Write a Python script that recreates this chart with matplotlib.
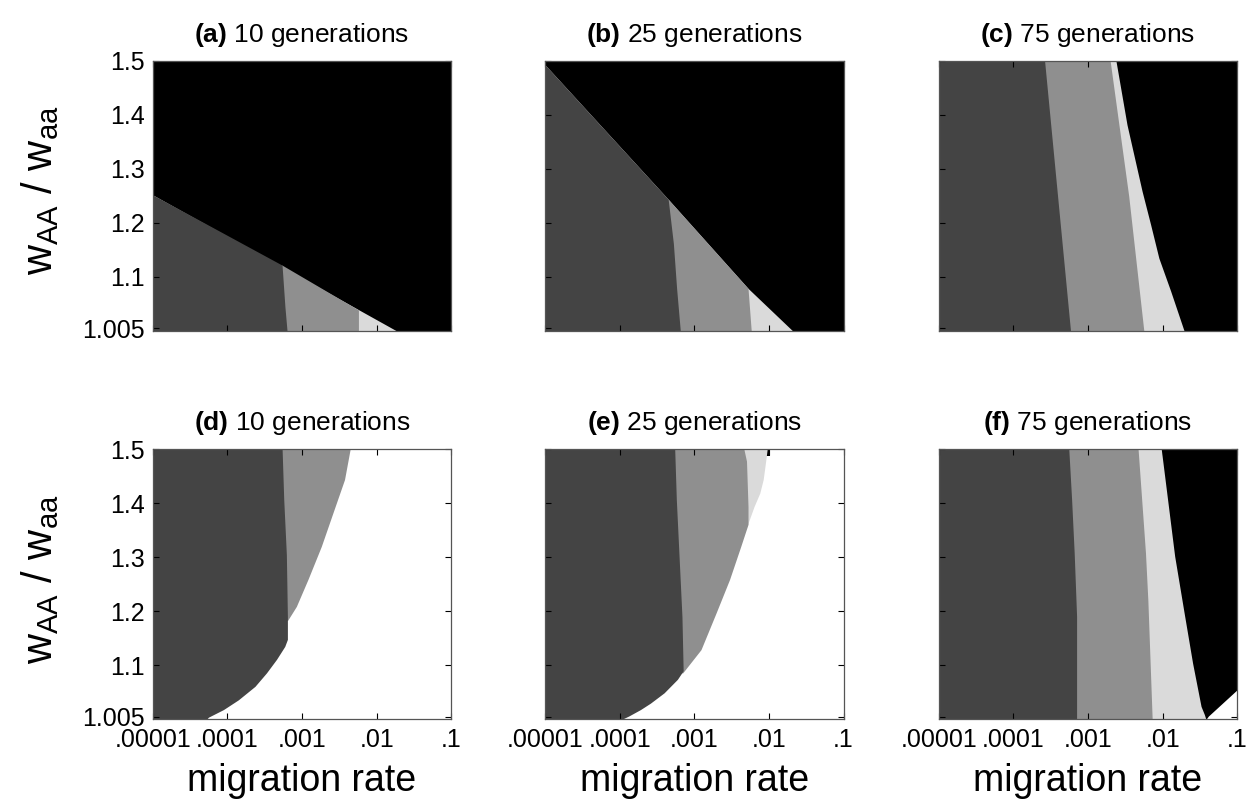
import matplotlib.pyplot as plt
from matplotlib.ticker import NullLocator

plt.rcParams['font.family'] = ['Liberation Sans', 'DejaVu Sans']
plt.rcParams['mathtext.fontset'] = 'custom'
plt.rcParams['mathtext.rm'] = 'Liberation Sans'
plt.rcParams['mathtext.bf'] = 'Liberation Sans:bold'

# axes ticks
x_ticks = [1e-5, 1e-4, 1e-3, 1e-2, 1e-1]
x_labels = ['.00001', '.0001', '.001', '.01', '.1']
y_ticks = [1.005, 1.1, 1.2, 1.3, 1.4, 1.5]
y_labels = ['1.005', '1.1', '1.2', '1.3', '1.4', '1.5']

panel_letters = ['a', 'b', 'c', 'd', 'e', 'f']
generations = [10, 25, 75, 10, 25, 75]

# right edge (migration rate) of each grey zone at the listed wAA/waa values
# (a)
a_dark_y = [1.0, 1.045, 1.122, 1.252]
a_dark_m = [6.3e-4, 5.9e-4, 5.4e-4, 1e-5]
a_mid_y = [1.0, 1.039, 1.122]
a_mid_m = [5.7e-3, 5.7e-3, 5.4e-4]
a_light_y = [1.0, 1.252]
a_light_m = [1.86e-2, 1e-5]
# (b)
b_dark_y = [1.0, 1.079, 1.162, 1.244, 1.493]
b_dark_m = [6.5e-4, 5.8e-4, 5.25e-4, 4.47e-4, 1e-5]
b_mid_y = [1.0, 1.079, 1.244]
b_mid_m = [5.8e-3, 5.25e-3, 4.47e-4]
b_light_y = [1.0, 1.079, 1.244, 1.493]
b_light_m = [2.09e-2, 5.25e-3, 4.47e-4, 1e-5]
# (c)
c_dark_y = [1.0, 1.5]
c_dark_m = [5.83e-4, 2.62e-4]
c_mid_y = [1.0, 1.25, 1.5]
c_mid_m = [5.6e-3, 3.51e-3, 1.98e-3]
c_light_y = [1.0, 1.074, 1.135, 1.197, 1.259, 1.382, 1.5]
c_light_m = [1.94e-2, 1.28e-2, 8.9e-3, 6.9e-3, 5.3e-3, 3.33e-3, 2.37e-3]
# (d)
d_dark_y = [1.0, 1.004, 1.018, 1.036, 1.061, 1.086, 1.111, 1.135, 1.148,
            1.19, 1.305, 1.407, 1.5]
d_dark_m = [5.25e-5, 5.58e-5, 8.85e-5, 1.4e-4, 2.34e-4, 3.34e-4, 4.55e-4,
            5.87e-4, 6.37e-4, 6.37e-4, 6.17e-4, 5.69e-4, 5.41e-4]
d_mid_y = [1.183, 1.209, 1.259, 1.32, 1.382, 1.444, 1.5]
d_mid_m = [6.4e-4, 8.39e-4, 1.2e-3, 1.81e-3, 2.59e-3, 3.71e-3, 4.41e-3]
# (e)
e_dark_y = [1.0, 1.006, 1.018, 1.03, 1.049, 1.074, 1.09, 1.19, 1.305, 1.407, 1.5]
e_dark_m = [1.07e-4, 1.32e-4, 1.9e-4, 2.59e-4, 3.94e-4, 5.94e-4, 7.1e-4,
            6.84e-4, 6.24e-4, 5.75e-4, 5.47e-4]
e_mid_y = [1.086, 1.129, 1.197, 1.259, 1.32, 1.361, 1.394, 1.478, 1.5]
e_mid_m = [7.0e-4, 1.23e-3, 1.96e-3, 2.97e-3, 4.19e-3, 5.25e-3, 5.25e-3,
           5.01e-3, 4.63e-3]
e_light_y = [1.355, 1.394, 1.419, 1.444, 1.475, 1.5]
e_light_m = [5.0e-3, 6.32e-3, 7.55e-3, 8.38e-3, 8.99e-3, 9.48e-3]
e_black_y = [1.487, 1.5]
e_black_m = [1.05e-2, 1.05e-2]
# (f)
f_dark_y = [1.0, 1.191, 1.308, 1.407, 1.5]
f_dark_m = [7.03e-4, 7.03e-4, 6.53e-4, 6.03e-4, 5.53e-4]
f_mid_y = [1.0, 1.22, 1.308, 1.5]
f_mid_m = [7.24e-3, 6.34e-3, 5.89e-3, 4.69e-3]
f_light_y = [1.0, 1.009, 1.024, 1.104, 1.197, 1.302, 1.5]
f_light_m = [3.8e-2, 3.62e-2, 3.27e-2, 2.52e-2, 1.94e-2, 1.45e-2, 9.59e-3]
f_black_y = [1.0, 1.006, 1.055, 1.5]
f_black_m = [3.81e-2, 4.1e-2, 0.1, 0.1]

DARK, MID, LIGHT, BLACK = '#444444', '#8f8f8f', '#dadada', '#000000'

# painted right-most first so each zone covers the ones to its right
zones = [
    [(LIGHT, a_light_y, a_light_m), (MID, a_mid_y, a_mid_m), (DARK, a_dark_y, a_dark_m)],
    [(LIGHT, b_light_y, b_light_m), (MID, b_mid_y, b_mid_m), (DARK, b_dark_y, b_dark_m)],
    [(LIGHT, c_light_y, c_light_m), (MID, c_mid_y, c_mid_m), (DARK, c_dark_y, c_dark_m)],
    [(MID, d_mid_y, d_mid_m), (DARK, d_dark_y, d_dark_m)],
    [(BLACK, e_black_y, e_black_m), (LIGHT, e_light_y, e_light_m),
     (MID, e_mid_y, e_mid_m), (DARK, e_dark_y, e_dark_m)],
    [(BLACK, f_black_y, f_black_m), (LIGHT, f_light_y, f_light_m),
     (MID, f_mid_y, f_mid_m), (DARK, f_dark_y, f_dark_m)],
]
backgrounds = ['black', 'black', 'black', 'white', 'white', 'white']

fig = plt.figure(figsize=(12.48, 8.01), dpi=100)

lefts = [0.1224, 0.4367, 0.7522]
bottoms = [0.5868, 0.1020]
w, h = 0.2392, 0.3371

for i in range(6):
    row, col = divmod(i, 3)
    ax = fig.add_axes([lefts[col], bottoms[row], w, h])
    ax.set_facecolor(backgrounds[i])
    for color, ys, ms in zones[i]:
        ax.fill_betweenx(ys, 1e-5, ms, color=color, lw=0, antialiased=False)

    ax.set_xscale('log')
    ax.set_xlim(1e-5, 1e-1)
    ax.set_ylim(1.0, 1.5)
    ax.set_xticks(x_ticks)
    ax.xaxis.set_minor_locator(NullLocator())
    ax.set_yticks(y_ticks)
    if row == 1:
        ax.set_xticklabels(x_labels)
    else:
        ax.set_xticklabels([])
    if col == 0:
        ax.set_yticklabels(y_labels)
    else:
        ax.set_yticklabels([])
    ax.tick_params(direction='in', top=True, right=True, length=4, width=0.8,
                   labelsize=18, pad=6)
    for sp in ax.spines.values():
        sp.set_color('#555555')
        sp.set_linewidth(0.9)

    ax.set_title(r'$\mathbf{(%s)}$ %d generations' % (panel_letters[i], generations[i]),
                 fontsize=19, pad=14)

    if col == 0:
        fig.text(40 / 1248, bottoms[row] + h * 0.52,
                 r'$\mathregular{w_{AA}\;/\;w_{aa}}$', rotation=90,
                 ha='center', va='center', fontsize=30)
    if row == 1:
        fig.text(lefts[col] + w / 2, 0.025, 'migration rate',
                 ha='center', va='center', fontsize=27)

fig.savefig('out.png', dpi=100)
